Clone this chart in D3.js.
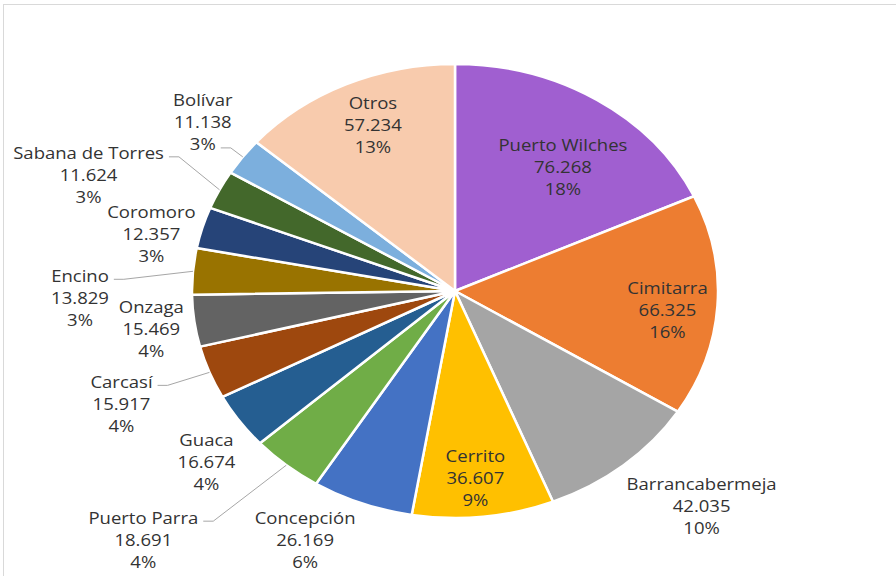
<!DOCTYPE html>
<html>
<head>
<meta charset="utf-8">
<script src="https://cdn.jsdelivr.net/npm/d3@7"></script>
<style>
	html, body { margin: 0; padding: 0; background: #ffffff; }
	svg { display: block; }
</style>
</head>
<body>
<svg id="chart" width="896" height="576"></svg>
<script>
// data
const municipios = ['Puerto Wilches', 'Cimitarra', 'Barrancabermeja', 'Cerrito', 'Concepción',
	'Puerto Parra', 'Guaca', 'Carcasí', 'Onzaga', 'Encino', 'Coromoro', 'Sabana de Torres',
	'Bolívar', 'Otros'];
const valores = [76.268, 66.325, 42.035, 36.607, 26.169, 18.691, 16.674, 15.917, 15.469,
	13.829, 12.357, 11.624, 11.138, 57.234];
const porcentajes = ['18%', '16%', '10%', '9%', '6%', '4%', '4%', '4%', '4%', '3%', '3%', '3%',
	'3%', '13%'];
const colores = ['#a05fd0', '#ed7d31', '#a5a5a5', '#ffc000', '#4472c4', '#70ad47', '#255e91',
	'#9e480e', '#636363', '#997300', '#264478', '#43682b', '#7cafdd', '#f8cbad'];

// configs
const WIDTH = 896;
const HEIGHT = 576;
const CX = 455;
const CY = 291;
const RY = 227;                    // vertical radius
const RX = 263;                    // horizontal radius (chart is stretched)
const STRETCH = RX / RY;           // same horizontal stretch applied to the labels
const LINE_H = 22;                 // label line height
const LABEL_COLOR = '#333333';
const LEADER_COLOR = '#a6a6a6';

// label placement, offset from the slice edge at mid angle
// leader: index of the label line the leader line starts from
const labelLayout = {
	'Puerto Wilches':   { dx: -34, dy: 67 },
	'Cimitarra':        { dx: -50, dy: 4 },
	'Barrancabermeja':  { dx: 78, dy: 40 },
	'Cerrito':          { dx: -8, dy: -39 },
	'Concepción':       { dx: -57, dy: 36 },
	'Puerto Parra':     { dx: -143, dy: 74, leader: 0 },
	'Guaca':            { dx: -33, dy: 40 },
	'Carcasí':          { dx: -88, dy: 31, leader: 0 },
	'Onzaga':           { dx: -43, dy: 8 },
	'Encino':           { dx: -113, dy: 26, leader: 0 },
	'Coromoro':         { dx: -51, dy: 6 },
	'Sabana de Torres': { dx: -131, dy: -15, leader: 0 },
	'Bolívar':          { dx: -40, dy: -35, leader: 2 },
	'Otros':            { dx: 27, dy: 40 }
};

const fmt = d3.format(',.3f');
const fmtNum = v => fmt(v).replace(',', '.');

const svg = d3.select('#chart');

// chart frame
svg.append('rect')
	.attr('x', 3.5)
	.attr('y', 4.5)
	.attr('width', WIDTH + 20)
	.attr('height', HEIGHT + 20)
	.attr('fill', '#ffffff')
	.attr('stroke', '#d9d9d9')
	.attr('stroke-width', 1);

const datos = municipios.map((m, i) => ({
	name: m, value: valores[i], pct: porcentajes[i], color: colores[i]
}));

const pie = d3.pie()
	.sort(null)
	.value(d => d.value);

const arcs = pie(datos);

const arc = d3.arc()
	.innerRadius(0)
	.outerRadius(RY);

// slices, scaled horizontally to an ellipse
const pieGroup = svg.append('g')
	.attr('transform', `translate(${CX},${CY}) scale(${STRETCH},1)`);

pieGroup.selectAll('path.slice')
	.data(arcs)
	.enter()
	.append('path')
	.attr('class', 'slice')
	.attr('d', arc)
	.attr('fill', d => d.data.color)
	.attr('stroke', '#ffffff')
	.attr('stroke-width', 2.5)
	.attr('stroke-linejoin', 'round')
	.attr('vector-effect', 'non-scaling-stroke');

// point on the ellipse edge at the slice mid angle
function edgePoint(d) {
	const a = (d.startAngle + d.endAngle) / 2;
	return [CX + RX * Math.sin(a), CY - RY * Math.cos(a)];
}

// labels
const labelGroup = svg.append('g').attr('class', 'labels');

arcs.forEach(d => {
	const lay = labelLayout[d.data.name];
	const [ex, ey] = edgePoint(d);
	const lx = ex + lay.dx;
	const ly = ey + lay.dy;
	const lines = [d.data.name, fmtNum(d.data.value), d.data.pct];

	const text = labelGroup.append('text')
		.attr('transform', `translate(${lx},${ly}) scale(${STRETCH},1)`)
		.attr('text-anchor', 'middle')
		.attr('dominant-baseline', 'central')
		.attr('font-family', '"Open Sans", "Noto Sans", sans-serif')
		.attr('font-size', 16)
		.attr('fill', LABEL_COLOR);

	const spans = lines.map((t, i) => text.append('tspan')
		.attr('x', 0)
		.attr('y', (i - 1) * LINE_H)
		.text(t));

	// leader line from the label to the slice edge
	if (lay.leader !== undefined) {
		const w = spans[lay.leader].node().getComputedTextLength() * STRETCH;
		const sx = lx + w / 2 + 5;
		const sy = ly + (lay.leader - 1) * LINE_H + 4;
		labelGroup.append('polyline')
			.attr('points', [[sx, sy], [sx + 10, sy], [ex, ey]].map(p => p.join(',')).join(' '))
			.attr('fill', 'none')
			.attr('stroke', LEADER_COLOR)
			.attr('stroke-width', 1);
	}
});
</script>
</body>
</html>
